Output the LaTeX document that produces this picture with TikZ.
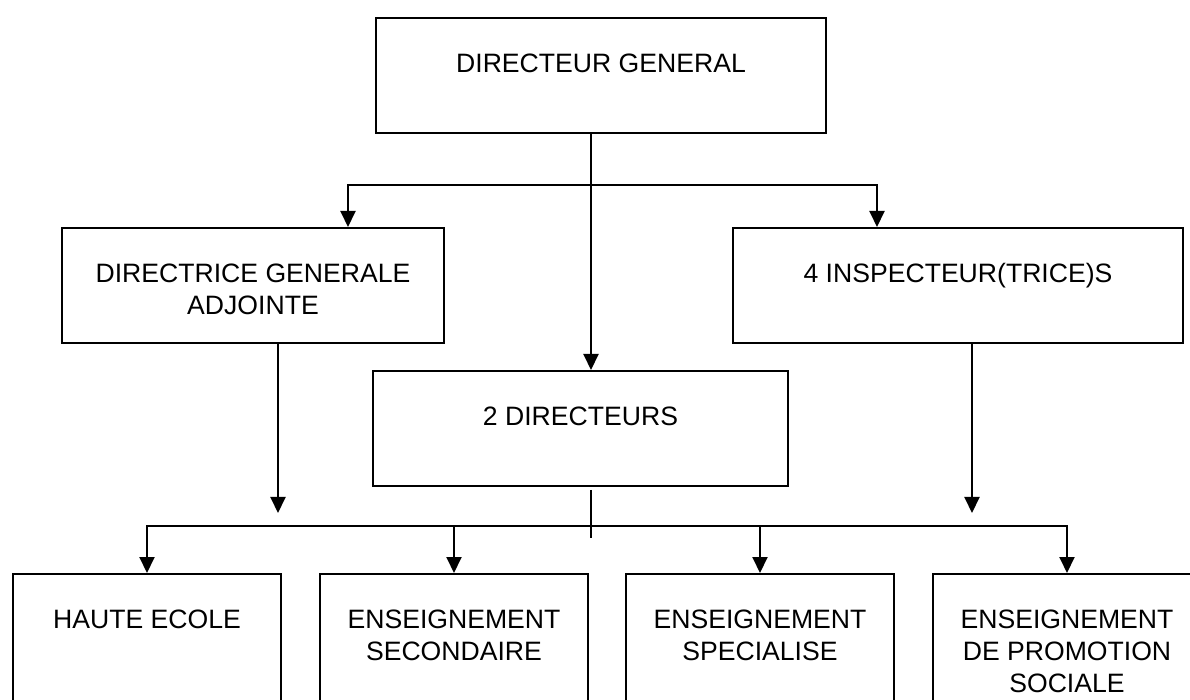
\documentclass[tikz,border=0pt]{standalone}
\usepackage{fontspec}
\setmainfont{Liberation Sans}
\usetikzlibrary{arrows.meta}
\tikzset{>={Triangle[width=7.5pt,length=8pt]}}
\newcommand{\orglines}[1]{\begin{tabular}[t]{@{}c@{}}#1\end{tabular}}
\tikzset{
  orgbox/.style={draw, line width=1.1pt, inner sep=0pt, anchor=north,
    text height=27pt, text depth=30.5pt, font=\fontsize{13.3pt}{16pt}\selectfont},
  unitbox/.style={orgbox, minimum width=134pt, text depth=50pt},
  link/.style={line width=1pt}
}

\begin{document}
\begin{tikzpicture}[x=0.5pt, y=-0.5pt]

  \path[use as bounding box] (0,0) rectangle (1190,700);
  \clip (0,0) rectangle (1190,700);

  % Nodes
  \node[orgbox, minimum width=225pt]   (dg)   at (601,17)    {DIRECTEUR GENERAL};
  \node[orgbox, minimum width=191pt]   (dga)  at (253,227)   {\orglines{DIRECTRICE GENERALE\\ADJOINTE}};
  \node[orgbox, minimum width=225pt]   (insp) at (958,227)   {4 INSPECTEUR(TRICE)S};
  \node[orgbox, minimum width=207.5pt] (dirs) at (580.5,370) {2 DIRECTEURS};
  \node[unitbox] (he)   at (147,573)  {HAUTE ECOLE};
  \node[unitbox] (es)   at (454,573)  {\orglines{ENSEIGNEMENT\\SECONDAIRE}};
  \node[unitbox] (spec) at (760,573)  {\orglines{ENSEIGNEMENT\\SPECIALISE}};
  \node[unitbox] (eps)  at (1067,573) {\orglines{ENSEIGNEMENT\\DE PROMOTION\\SOCIALE}};

  % Joints
  \coordinate (mid)     at (591,185);
  \coordinate (ja)      at (348,185);
  \coordinate (jb)      at (877,185);
  \coordinate (bus)     at (591,526);
  \coordinate (tick)    at (591,490);
  \coordinate (tickend) at (591,538);
  \coordinate (dgaend)  at (278,513);
  \coordinate (inspend) at (972,513);

  % Edges
  \draw[link, ->] (mid |- dg.south) -- (mid |- dirs.north);
  \draw[link, <->] (dga.north -| ja) |- (mid) -| (insp.north -| jb);
  \draw[link, ->] (dga.south -| dgaend) -- (dgaend);
  \draw[link, ->] (insp.south -| inspend) -- (inspend);
  \draw[link] (tick) -- (tickend);
  \draw[link, <->] (he.north) |- (bus) -| (eps.north);
  \draw[link, ->] (bus -| es.north) -- (es.north);
  \draw[link, ->] (bus -| spec.north) -- (spec.north);

\end{tikzpicture}
\end{document}
